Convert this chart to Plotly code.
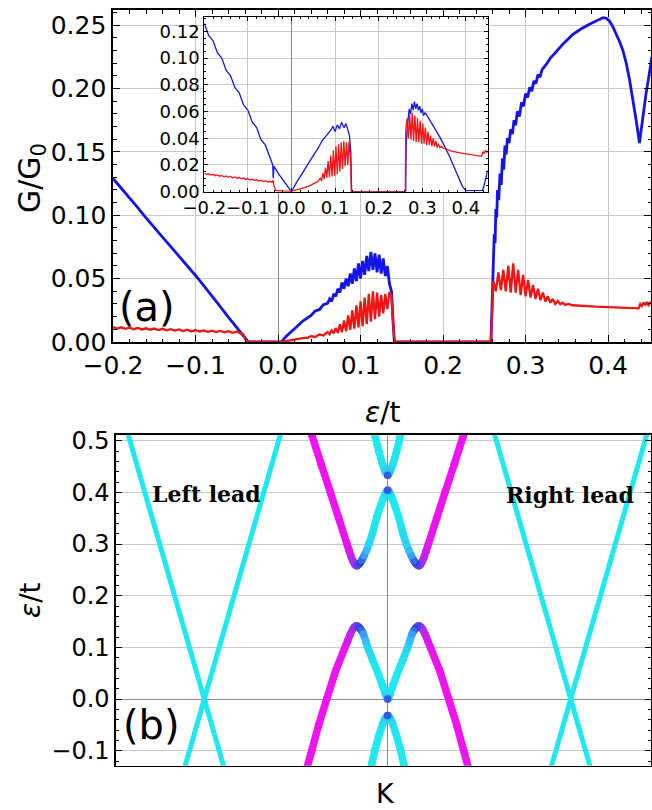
import plotly.graph_objects as go

# ---------------- Panel (a): conductance G/G0 vs eps/t (main) ----------------
eps_main_blue = [-0.200, -0.190, -0.180, -0.170, -0.160, -0.150, -0.140, -0.130, -0.120, -0.110,
                 -0.100, -0.090, -0.080, -0.070, -0.060, -0.050, -0.044, -0.040, -0.036, 0.004,
                 0.010, 0.020, 0.030, 0.040, 0.045, 0.050, 0.055, 0.060, 0.0625, 0.065,
                 0.0675, 0.070, 0.0725, 0.075, 0.0775, 0.080, 0.0825, 0.085, 0.0875, 0.090,
                 0.0925, 0.095, 0.0975, 0.100, 0.1025, 0.105, 0.1075, 0.110, 0.1125, 0.115,
                 0.1175, 0.120, 0.1225, 0.125, 0.1275, 0.130, 0.1325, 0.135, 0.1375, 0.1395,
                 0.141, 0.258, 0.2595, 0.261, 0.262, 0.263, 0.264, 0.265, 0.266, 0.2675,
                 0.269, 0.2705, 0.272, 0.2735, 0.275, 0.2765, 0.278, 0.280, 0.282, 0.284,
                 0.286, 0.288, 0.290, 0.2925, 0.295, 0.2975, 0.300, 0.3025, 0.305, 0.3075,
                 0.310, 0.3125, 0.315, 0.3175, 0.320, 0.325, 0.330, 0.337, 0.345, 0.357,
                 0.367, 0.378, 0.386, 0.394, 0.398, 0.402, 0.406, 0.410, 0.414, 0.418,
                 0.422, 0.426, 0.430, 0.434, 0.438, 0.442, 0.446, 0.450, 0.453]
g_main_blue = [0.129, 0.1215, 0.1135, 0.106, 0.098, 0.0905, 0.083, 0.075, 0.068, 0.060,
               0.0525, 0.0445, 0.0365, 0.028, 0.0195, 0.011, 0.006, 0.0025, 0.0, 0.0,
               0.0045, 0.0105, 0.0165, 0.021, 0.0245, 0.0255, 0.0295, 0.0305, 0.034, 0.032,
               0.038, 0.036, 0.042, 0.039, 0.047, 0.042, 0.050, 0.044, 0.054, 0.046,
               0.058, 0.048, 0.062, 0.050, 0.064, 0.053, 0.068, 0.056, 0.071, 0.057,
               0.070, 0.055, 0.069, 0.054, 0.066, 0.052, 0.060, 0.046, 0.040, 0.015,
               0.0, 0.0, 0.030, 0.062, 0.085, 0.078, 0.105, 0.098, 0.120, 0.112,
               0.133, 0.124, 0.145, 0.136, 0.155, 0.148, 0.161, 0.157, 0.168, 0.164,
               0.175, 0.171, 0.182, 0.178, 0.189, 0.186, 0.196, 0.193, 0.201, 0.198,
               0.206, 0.204, 0.211, 0.209, 0.215, 0.219, 0.224, 0.229, 0.235, 0.2425,
               0.247, 0.251, 0.2535, 0.256, 0.2555, 0.253, 0.2485, 0.243, 0.237, 0.230,
               0.220, 0.207, 0.192, 0.175, 0.157, 0.178, 0.196, 0.212, 0.225]

eps_main_red = [-0.200, -0.195, -0.190, -0.185, -0.180, -0.175, -0.170, -0.165, -0.160, -0.155,
                -0.150, -0.145, -0.140, -0.135, -0.130, -0.125, -0.120, -0.115, -0.110, -0.105,
                -0.100, -0.095, -0.090, -0.085, -0.080, -0.075, -0.070, -0.065, -0.060, -0.055,
                -0.050, -0.045, -0.042, -0.039, -0.036, 0.004, 0.010, 0.020, 0.030, 0.035,
                0.040, 0.045, 0.050, 0.055, 0.060, 0.0625, 0.065, 0.0675, 0.070, 0.0725,
                0.075, 0.0775, 0.080, 0.0825, 0.085, 0.0875, 0.090, 0.0925, 0.095, 0.0975,
                0.100, 0.1025, 0.105, 0.1075, 0.110, 0.1125, 0.115, 0.1175, 0.120, 0.1225,
                0.125, 0.1275, 0.130, 0.1325, 0.135, 0.1375, 0.1395, 0.141, 0.258, 0.2595,
                0.261, 0.264, 0.267, 0.270, 0.273, 0.276, 0.279, 0.282, 0.285, 0.288,
                0.291, 0.294, 0.297, 0.300, 0.303, 0.306, 0.309, 0.312, 0.315, 0.318,
                0.321, 0.324, 0.327, 0.330, 0.333, 0.336, 0.339, 0.342, 0.345, 0.348,
                0.352, 0.357, 0.370, 0.385, 0.400, 0.415, 0.430, 0.437, 0.439, 0.441,
                0.443, 0.445, 0.447, 0.449, 0.451, 0.453]
g_main_red = [0.0118, 0.0106, 0.0116, 0.0104, 0.0113, 0.0101, 0.0111, 0.0099, 0.0108, 0.0097,
              0.0106, 0.0094, 0.0104, 0.0092, 0.0101, 0.0090, 0.0099, 0.0087, 0.0097, 0.0085,
              0.0094, 0.0083, 0.0092, 0.0080, 0.0090, 0.0078, 0.0087, 0.0076, 0.0085, 0.0073,
              0.0082, 0.0068, 0.0060, 0.0015, 0.0, 0.0, 0.0008, 0.0018, 0.0030, 0.0032,
              0.0045, 0.0040, 0.0060, 0.0052, 0.0078, 0.0062, 0.0092, 0.0068, 0.0110, 0.0072,
              0.0140, 0.0078, 0.0170, 0.0085, 0.0210, 0.0095, 0.0250, 0.0105, 0.0290, 0.0115,
              0.0320, 0.0125, 0.0350, 0.0140, 0.0380, 0.0160, 0.0400, 0.0180, 0.0390, 0.0200,
              0.0370, 0.0225, 0.0380, 0.0260, 0.0395, 0.0360, 0.0120, 0.0, 0.0, 0.020,
              0.048, 0.040, 0.055, 0.041, 0.057, 0.040, 0.060, 0.039, 0.062, 0.039,
              0.057, 0.037, 0.053, 0.036, 0.049, 0.035, 0.045, 0.034, 0.042, 0.033,
              0.039, 0.032, 0.036, 0.031, 0.034, 0.030, 0.0325, 0.0298, 0.031, 0.0293,
              0.0300, 0.0290, 0.0283, 0.0279, 0.0276, 0.0272, 0.0268, 0.0265, 0.0300, 0.0285,
              0.0312, 0.0290, 0.0315, 0.0292, 0.0310, 0.0300]

# ---------------- Panel (a): inset ----------------
eps_inset_blue = [-0.200, -0.190, -0.180, -0.170, -0.160, -0.150, -0.140, -0.130, -0.120, -0.110,
                  -0.100, -0.090, -0.080, -0.070, -0.060, -0.050, -0.043, -0.042, -0.040, -0.030,
                  -0.020, -0.010, 0.000, 0.010, 0.020, 0.030, 0.040, 0.050, 0.060, 0.070,
                  0.080, 0.090, 0.095, 0.100, 0.105, 0.110, 0.115, 0.120, 0.125, 0.130,
                  0.133, 0.136, 0.138, 0.262, 0.263, 0.266, 0.270, 0.273, 0.276, 0.279,
                  0.282, 0.285, 0.288, 0.291, 0.294, 0.297, 0.300, 0.303, 0.306, 0.309,
                  0.320, 0.332, 0.340, 0.348, 0.356, 0.363, 0.372, 0.382, 0.392, 0.400,
                  0.420, 0.438, 0.442, 0.446, 0.450]
g_inset_blue = [0.126, 0.117, 0.113, 0.104, 0.100, 0.091, 0.087, 0.078, 0.074, 0.065,
                0.061, 0.052, 0.048, 0.039, 0.035, 0.026, 0.020, 0.010, 0.019, 0.0135,
                0.009, 0.0045, 0.0, 0.006, 0.011, 0.016, 0.021, 0.027, 0.032, 0.038,
                0.042, 0.046, 0.049, 0.045, 0.050, 0.047, 0.052, 0.048, 0.051, 0.046,
                0.042, 0.030, 0.0, 0.0, 0.036, 0.050, 0.062, 0.058, 0.066, 0.061,
                0.0675, 0.062, 0.066, 0.061, 0.064, 0.059, 0.062, 0.057, 0.059, 0.058,
                0.052, 0.046, 0.041, 0.036, 0.031, 0.026, 0.019, 0.011, 0.004, 0.0008,
                0.0008, 0.001, 0.005, 0.010, 0.016]

eps_inset_red = [-0.200, -0.195, -0.190, -0.185, -0.180, -0.175, -0.170, -0.165, -0.160, -0.155,
                 -0.150, -0.145, -0.140, -0.135, -0.130, -0.125, -0.120, -0.115, -0.110, -0.105,
                 -0.100, -0.095, -0.090, -0.085, -0.080, -0.075, -0.070, -0.065, -0.060, -0.055,
                 -0.050, -0.045, -0.042, -0.040, -0.036, -0.020, 0.000, 0.010, 0.020, 0.030,
                 0.040, 0.050, 0.060, 0.066, 0.069, 0.072, 0.075, 0.078, 0.081, 0.084,
                 0.087, 0.090, 0.093, 0.096, 0.099, 0.102, 0.105, 0.108, 0.111, 0.114,
                 0.117, 0.120, 0.123, 0.126, 0.129, 0.132, 0.134, 0.136, 0.137, 0.261,
                 0.262, 0.265, 0.268, 0.271, 0.274, 0.277, 0.280, 0.283, 0.286, 0.289,
                 0.292, 0.295, 0.298, 0.301, 0.304, 0.307, 0.310, 0.313, 0.316, 0.319,
                 0.322, 0.325, 0.328, 0.331, 0.334, 0.337, 0.340, 0.344, 0.348, 0.355,
                 0.365, 0.378, 0.390, 0.405, 0.420, 0.436, 0.439, 0.442, 0.445, 0.448,
                 0.451]
g_inset_red = [0.0138, 0.0128, 0.0134, 0.0124, 0.0130, 0.0120, 0.0126, 0.0116, 0.0122, 0.0112,
               0.0118, 0.0108, 0.0114, 0.0104, 0.0110, 0.0100, 0.0106, 0.0096, 0.0102, 0.0092,
               0.0098, 0.0088, 0.0094, 0.0084, 0.0090, 0.0080, 0.0086, 0.0076, 0.0082, 0.0072,
               0.0078, 0.0070, 0.0085, 0.0040, 0.0010, 0.0005, 0.0005, 0.0012, 0.0020, 0.0030,
               0.0042, 0.0058, 0.0075, 0.0100, 0.0080, 0.0140, 0.0095, 0.0180, 0.0105, 0.0230,
               0.0110, 0.0270, 0.0115, 0.0310, 0.0120, 0.0340, 0.0130, 0.0355, 0.0150, 0.0370,
               0.0170, 0.0380, 0.0190, 0.0370, 0.0200, 0.0375, 0.0250, 0.0200, 0.0, 0.0,
               0.046, 0.055, 0.040, 0.058, 0.039, 0.059, 0.038, 0.057, 0.037, 0.055,
               0.037, 0.053, 0.036, 0.051, 0.036, 0.048, 0.035, 0.045, 0.035, 0.042,
               0.034, 0.040, 0.034, 0.038, 0.033, 0.036, 0.033, 0.034, 0.0325, 0.0320,
               0.0305, 0.0295, 0.0288, 0.0282, 0.0275, 0.0265, 0.0300, 0.0285, 0.0310, 0.0295,
               0.0305]

main_xticks = [-0.2, -0.1, 0.0, 0.1, 0.2, 0.3, 0.4]
main_yticks = [0.00, 0.05, 0.10, 0.15, 0.20, 0.25]
inset_xticks = [-0.2, -0.1, 0.0, 0.1, 0.2, 0.3, 0.4]
inset_yticks = [0.00, 0.02, 0.04, 0.06, 0.08, 0.10, 0.12]
band_yticks = [-0.1, 0.0, 0.1, 0.2, 0.3, 0.4, 0.5]

# ---------------- Panel (b): band structure (K in arbitrary units, 0 = K point) ----------------
lead_eps = [-0.2, 0.6]
left_lead_k_a = [-1.537, -2.726]
left_lead_k_b = [-2.131, -0.942]
right_lead_k_a = [2.127, 0.938]
right_lead_k_b = [1.533, 2.722]

# left half of the central-region bands (the right half is the mirror image in K);
# w = weight on the barrier region (0 -> cyan, 1 -> magenta)
upper_w_outer_k = [-0.86, -0.757, -0.667, -0.573, -0.49, -0.407, -0.385, -0.365, -0.345, -0.327, -0.31]
upper_w_outer_e = [0.575, 0.510, 0.455, 0.400, 0.350, 0.300, 0.287, 0.275, 0.266, 0.260, 0.258]
upper_w_outer_w = [1.0, 1.0, 1.0, 1.0, 1.0, 0.97, 0.93, 0.88, 0.82, 0.76, 0.70]

upper_w_inner_k = [-0.31, -0.293, -0.275, -0.26, -0.235, -0.21, -0.187, -0.15, -0.11, -0.07, -0.045, -0.027, -0.012, 0.0]
upper_w_inner_e = [0.258, 0.260, 0.264, 0.268, 0.278, 0.288, 0.300, 0.322, 0.352, 0.375, 0.388, 0.397, 0.402, 0.404]
upper_w_inner_w = [0.70, 0.60, 0.50, 0.42, 0.32, 0.20, 0.10, 0.04, 0.0, 0.0, 0.0, 0.04, 0.15, 0.45]

upper_cone_k = [-0.16, -0.127, -0.09, -0.053, -0.025, 0.0]
upper_cone_e = [0.550, 0.510, 0.480, 0.455, 0.440, 0.433]
upper_cone_w = [0.0, 0.0, 0.0, 0.03, 0.15, 0.45]

lower_m_outer_k = [-0.86, -0.76, -0.69, -0.61, -0.52, -0.427, -0.40, -0.375, -0.35, -0.33, -0.31]
lower_m_outer_e = [-0.170, -0.100, -0.050, 0.000, 0.055, 0.100, 0.113, 0.125, 0.135, 0.140, 0.142]
lower_m_outer_w = [1.0, 1.0, 1.0, 1.0, 1.0, 0.97, 0.93, 0.88, 0.82, 0.76, 0.70]

lower_m_inner_k = [-0.31, -0.293, -0.275, -0.26, -0.243, -0.22, -0.2, -0.15, -0.093, -0.05, -0.025, -0.01, 0.0]
lower_m_inner_e = [0.142, 0.140, 0.136, 0.132, 0.126, 0.112, 0.100, 0.075, 0.048, 0.025, 0.011, 0.003, 0.0]
lower_m_inner_w = [0.70, 0.60, 0.50, 0.42, 0.32, 0.20, 0.10, 0.03, 0.0, 0.0, 0.04, 0.15, 0.45]

lower_cone_k = [-0.20, -0.16, -0.13, -0.09, -0.05, -0.022, 0.0]
lower_cone_e = [-0.160, -0.126, -0.100, -0.072, -0.048, -0.036, -0.032]
lower_cone_w = [0.0, 0.0, 0.0, 0.0, 0.03, 0.15, 0.45]

# ---------------- styling ----------------
W, H = 652, 810
BLUE = "#1414e6"
RED = "#f01414"
CYAN = "#1ee9ef"
FONT = "DejaVu Sans"
GRID = "#c9c9c9"
ZERO = "#8a8a8a"

STOPS = [(0.0, (30, 233, 240)), (0.3, (60, 168, 250)), (0.5, (45, 65, 215)),
         (0.72, (140, 55, 235)), (1.0, (240, 18, 240))]


def wcolor(w):
    for (a, ca), (b, cb) in zip(STOPS[:-1], STOPS[1:]):
        if w <= b:
            t = (w - a) / (b - a) if b > a else 0
            c = [round(ca[i] + t * (cb[i] - ca[i])) for i in range(3)]
            return "rgb(%d,%d,%d)" % tuple(c)
    return "rgb(%d,%d,%d)" % STOPS[-1][1]


def px_x(x):
    return x / W


def px_y(y):
    return (H - y) / H


fig = go.Figure()

# main traces
fig.add_trace(go.Scatter(x=eps_main_blue, y=g_main_blue, mode="lines",
                         line=dict(color=BLUE, width=2.8), xaxis="x", yaxis="y", showlegend=False))
fig.add_trace(go.Scatter(x=eps_main_red, y=g_main_red, mode="lines",
                         line=dict(color=RED, width=2.3), xaxis="x", yaxis="y", showlegend=False))
# inset traces
fig.add_trace(go.Scatter(x=eps_inset_blue, y=g_inset_blue, mode="lines",
                         line=dict(color=BLUE, width=1.3), xaxis="x2", yaxis="y2", showlegend=False))
fig.add_trace(go.Scatter(x=eps_inset_red, y=g_inset_red, mode="lines",
                         line=dict(color=RED, width=1.3), xaxis="x2", yaxis="y2", showlegend=False))

# leads
for kk in (left_lead_k_a, left_lead_k_b, right_lead_k_a, right_lead_k_b):
    fig.add_trace(go.Scatter(x=kk, y=lead_eps, mode="lines", line=dict(color=CYAN, width=5),
                             xaxis="x3", yaxis="y3", showlegend=False, hoverinfo="skip"))


def draw_branch(k, e, w, mirror, width=7.5):
    ks = [-v for v in k] if mirror else list(k)
    for i in range(len(ks) - 1):
        fig.add_trace(go.Scatter(x=[ks[i], ks[i + 1]], y=[e[i], e[i + 1]], mode="lines",
                                 line=dict(color=wcolor((w[i] + w[i + 1]) / 2), width=width),
                                 xaxis="x3", yaxis="y3", showlegend=False, hoverinfo="skip"))
    fig.add_trace(go.Scatter(x=ks, y=e, mode="markers",
                             marker=dict(size=width, color=[wcolor(v) for v in w], line=dict(width=0)),
                             xaxis="x3", yaxis="y3", showlegend=False, hoverinfo="skip"))


branches = [
    (upper_w_outer_k, upper_w_outer_e, upper_w_outer_w),
    (upper_w_inner_k, upper_w_inner_e, upper_w_inner_w),
    (upper_cone_k, upper_cone_e, upper_cone_w),
    (lower_m_outer_k, lower_m_outer_e, lower_m_outer_w),
    (lower_m_inner_k, lower_m_inner_e, lower_m_inner_w),
    (lower_cone_k, lower_cone_e, lower_cone_w),
]
for mirror in (False, True):
    for k, e, w in branches:
        draw_branch(k, e, w, mirror)

base = dict(showline=True, linecolor="black", mirror="ticks", ticks="inside",
            tickcolor="black", gridcolor=GRID, gridwidth=1, automargin=False, tickangle=0)

fig.update_layout(
    width=W, height=H, margin=dict(l=0, r=0, t=0, b=0, autoexpand=False),
    paper_bgcolor="white", plot_bgcolor="white",
    font=dict(family=FONT, color="black"),
    xaxis=dict(domain=[px_x(113), px_x(651)], range=[-0.2, 0.452], anchor="y",
               tickvals=main_xticks, tickformat=".1f", tickfont=dict(size=25, family=FONT),
               ticklen=7, linewidth=1.6, showgrid=True,
               zeroline=True, zerolinecolor=ZERO, zerolinewidth=1,
               minor=dict(ticks="inside", ticklen=3.5, dtick=0.02, tickcolor="black", showgrid=False),
               **base),
    yaxis=dict(domain=[px_y(342), px_y(10)], range=[0, 0.262], anchor="x",
               tickvals=main_yticks, tickformat=".2f", tickfont=dict(size=25, family=FONT),
               ticklen=7, linewidth=1.6, showgrid=True, zeroline=False,
               minor=dict(ticks="inside", ticklen=3.5, dtick=0.01, tickcolor="black", showgrid=False),
               **base),
    xaxis2=dict(domain=[px_x(204.3), px_x(487.7)], range=[-0.2, 0.45], anchor="y2",
                tickvals=inset_xticks, tickformat=".1f", tickfont=dict(size=18, family=FONT),
                ticklen=4, linewidth=1, showgrid=True,
                zeroline=True, zerolinecolor=ZERO, zerolinewidth=1,
                minor=dict(ticks="inside", ticklen=2, dtick=0.02, tickcolor="black", showgrid=False),
                **base),
    yaxis2=dict(domain=[px_y(191.7), px_y(16.7)], range=[0, 0.131], anchor="x2",
                tickvals=inset_yticks, tickformat=".2f", tickfont=dict(size=18, family=FONT),
                ticklen=4, linewidth=1, showgrid=True, zeroline=False,
                minor=dict(ticks="inside", ticklen=2, dtick=0.005, tickcolor="black", showgrid=False),
                **base),
    xaxis3=dict(domain=[px_x(116), px_x(651)], range=[-2.717, 2.633], anchor="y3",
                showticklabels=False, ticks="", showgrid=False, showline=True, linecolor="black",
                linewidth=1.6, mirror=True, zeroline=True, zerolinecolor=ZERO, zerolinewidth=1,
                automargin=False),
    yaxis3=dict(domain=[px_y(765.7), px_y(435)], range=[-0.129, 0.511], anchor="x3",
                tickvals=band_yticks, tickformat=".1f", tickfont=dict(size=24, family=FONT),
                ticklen=6, linewidth=1.6, showgrid=True,
                zeroline=True, zerolinecolor=ZERO, zerolinewidth=1,
                minor=dict(ticks="inside", ticklen=3, dtick=0.02, tickcolor="black", showgrid=False),
                **base),
)

# white background of the inset (hides the main grid beneath it)
fig.add_shape(type="rect", xref="x2 domain", yref="y2 domain", x0=0, x1=1, y0=0, y1=1,
              fillcolor="white", line=dict(width=0), layer="below")

ann = [
    dict(text="(a)", x=px_x(147), y=px_y(307), font=dict(size=40, family=FONT)),
    dict(text="(b)", x=px_x(151), y=px_y(725), font=dict(size=40, family=FONT)),
    dict(text="G/G<sub>0</sub>", x=px_x(31), y=px_y(178), textangle=-90, font=dict(size=30, family=FONT)),
    dict(text="<i>ε</i>/t", x=px_x(383), y=px_y(412), font=dict(size=28, family=FONT)),
    dict(text="<i>ε</i>/t", x=px_x(30), y=px_y(600), textangle=-90, font=dict(size=28, family=FONT)),
    dict(text="K", x=px_x(385), y=px_y(793), font=dict(size=27, family=FONT)),
    dict(text="<b>Left lead</b>", x=px_x(206), y=px_y(494), font=dict(size=22, family="DejaVu Serif")),
    dict(text="<b>Right lead</b>", x=px_x(570), y=px_y(495), font=dict(size=22, family="DejaVu Serif")),
]
for a in ann:
    fig.add_annotation(xref="paper", yref="paper", showarrow=False, xanchor="center", yanchor="middle", **a)

fig.write_html("out.html", config={"staticPlot": True, "displayModeBar": False},
               post_script="document.body.style.margin='0';document.body.style.overflow='hidden';")
